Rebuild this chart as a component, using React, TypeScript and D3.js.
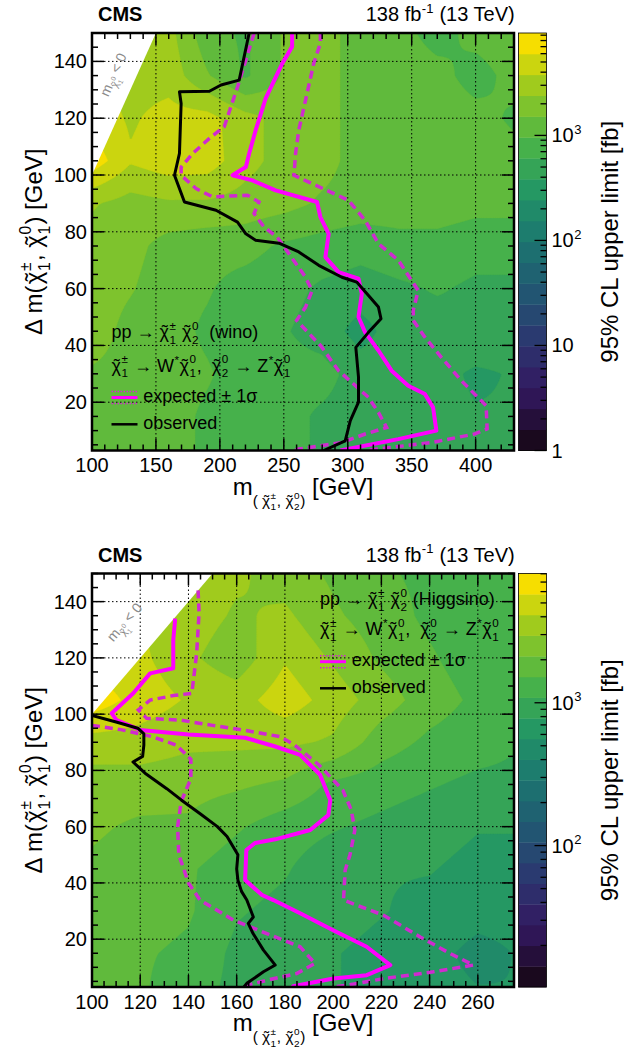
import React, { useMemo } from 'react';
import * as d3 from 'd3';

const W = 639;
const H = 1055;
const FONT = '"Liberation Sans", Arial, Helvetica, sans-serif';

// ---------------- data: wino panel ----------------
const WINO_M = [100, 130, 160, 190, 220, 250, 280, 310, 340, 370, 400, 430];
const WINO_D = [150, 135, 120, 105, 90, 75, 60, 45, 30, 15, 3];
const WINO_LOGZ = [
  [3.5, 3.5, 3.45, 3.05, 2.95, 3.2, 3.25, 3.1, 3.05, 2.9, 3.05, 3.1],
  [3.6, 3.5, 3.5, 3.2, 2.95, 3.2, 3.25, 3.1, 3.1, 3.05, 2.9, 3.05],
  [3.7, 3.55, 3.65, 3.65, 3.45, 3.3, 3.25, 3.1, 3.1, 3.1, 3.05, 2.95],
  [3.9, 3.6, 3.7, 3.68, 3.45, 3.3, 3.25, 3.1, 3.1, 3.1, 3.1, 3.05],
  [3.4, 3.3, 3.35, 3.35, 3.3, 3.25, 3.15, 3.1, 3.1, 3.1, 3.05, 3.05],
  [3.3, 3.25, 3.1, 3.05, 3.05, 2.95, 2.9, 2.85, 2.9, 2.9, 2.85, 2.85],
  [3.3, 3.2, 3.05, 3.0, 2.9, 2.85, 2.75, 2.7, 2.75, 2.8, 2.75, 2.75],
  [3.3, 3.1, 3.05, 2.95, 2.85, 2.8, 2.7, 2.5, 2.7, 2.7, 2.75, 2.7],
  [3.15, 3.1, 3.05, 3.0, 2.9, 2.85, 2.85, 2.7, 2.7, 2.65, 2.55, 2.6],
  [3.1, 3.1, 3.05, 2.95, 2.9, 2.85, 2.75, 2.7, 2.7, 2.65, 2.6, 2.6],
  [3.05, 3.1, 3.05, 2.95, 2.9, 2.85, 2.75, 2.7, 2.7, 2.65, 2.6, 2.6],
];
const WINO_OBS = [
  [222.9, 150], [215.1, 133.4], [200.9, 131.7], [191.8, 129.5], [168.4, 129.3], [169.7, 125.2],
  [168.4, 107.6], [164.5, 99.9], [172.3, 90.5], [197, 87.6], [213.8, 83.4], [220.3, 79.3],
  [228, 77], [246.2, 76], [261.7, 72.9], [277.3, 68.2], [295.4, 64], [307, 62.3], [316.2, 57.6],
  [324, 53.5], [326, 49.4], [316.2, 44.6], [306.3, 39.3], [308.4, 28.8], [308.4, 20], [302, 13.5],
  [298, 6.4], [281.2, 3],
];
const WINO_EXP = [
  [256.5, 150], [256.5, 145.2], [248.8, 139.3], [235.8, 127], [228, 115.8], [222.9, 107.6],
  [220.3, 102.8], [209.9, 99.9], [225.4, 98.1], [243.6, 94.6], [276, 90.5], [278.6, 85.2],
  [285.1, 79.3], [282.5, 71.1], [292.8, 65.8], [308.4, 63.5], [311, 58.2], [308.4, 50],
  [313.6, 44.6], [324, 38.2], [334.3, 31.1], [347.3, 25.8], [360.3, 22.9], [366.7, 18.2],
  [369.3, 10], [339.5, 7], [294.2, 3],
];
const WINO_EXP_UP = [
  [278.6, 150], [278.6, 146.4], [273.4, 139.3], [267, 126.4], [261.7, 115.8], [259.2, 107.6],
  [257.9, 99.9], [269.5, 97.5], [300.6, 91.1], [313.6, 84], [324, 75.8], [339.5, 70],
  [349.9, 62.9], [355.1, 59.3], [351.2, 52.3], [351.2, 48.8], [360.3, 42.9], [373.2, 35.8],
  [388.8, 27.6], [401.7, 21.7], [408.2, 18.8], [409, 10.6], [399.1, 8.8], [365.4, 5.8], [313.6, 3],
];
const WINO_EXP_DOWN = [
  [226.8, 150], [213.8, 131], [208.6, 124], [203.4, 117], [191.8, 112.9], [178.8, 107.6],
  [169.7, 102.8], [169.7, 99.9], [181.4, 95.2], [194.3, 92.3], [221.5, 92.9], [230.6, 90.5],
  [226.7, 86.4], [234.5, 81.7], [244.9, 78.1], [254, 72.3], [267, 64], [272.1, 59.3],
  [267, 53.5], [260, 48.8], [279, 39.8], [292.8, 31.1], [316.2, 21.7], [324, 16.4],
  [330.4, 11.1], [313.6, 8.8], [295.4, 5.8], [261.7, 3.5], [258, 3],
];
const WINO_XTICKS = [100, 150, 200, 250, 300, 350, 400];

// ---------------- data: higgsino panel ----------------
const HIGG_M = [100, 120, 140, 160, 180, 200, 220, 240, 260, 275];
const HIGG_D = [150, 135, 120, 105, 90, 75, 60, 45, 30, 15, 3];
const HIGG_LOGZ = [
  [3.6, 3.6, 3.55, 3.5, 3.4, 3.3, 3.2, 3.15, 3.1, 3.05],
  [3.6, 3.6, 3.55, 3.45, 3.5, 3.35, 3.25, 3.15, 3.1, 3.05],
  [3.7, 3.65, 3.5, 3.38, 3.6, 3.45, 3.3, 3.2, 3.1, 3.05],
  [3.85, 3.7, 3.6, 3.55, 3.7, 3.55, 3.4, 3.25, 3.15, 3.1],
  [3.55, 3.55, 3.5, 3.5, 3.5, 3.45, 3.25, 3.15, 3.1, 3.05],
  [3.4, 3.4, 3.38, 3.35, 3.3, 3.15, 3.1, 3.05, 3.0, 3.0],
  [3.35, 3.3, 3.3, 3.2, 3.1, 3.05, 3.0, 2.95, 2.9, 2.9],
  [3.3, 3.25, 3.2, 3.1, 3.05, 2.95, 2.9, 2.9, 2.85, 2.85],
  [3.25, 3.25, 3.2, 3.05, 3.0, 2.95, 2.9, 2.85, 2.8, 2.8],
  [3.2, 3.2, 3.15, 3.0, 2.95, 2.9, 2.85, 2.8, 2.7, 2.75],
  [3.2, 3.2, 3.1, 3.0, 2.95, 2.9, 2.85, 2.8, 2.75, 2.75],
];
const HIGG_OBS = [
  [100, 99.5], [110, 97.2], [119, 95], [121.5, 93], [121.5, 89], [121, 85], [117, 83], [122, 79],
  [131, 73.5], [137, 69.5], [145, 64.5], [152, 60], [156, 56.5], [160.5, 50], [160, 45], [160.5, 41],
  [162, 37], [164.2, 33.9], [166.9, 27.9], [164.8, 25.6], [166.8, 22], [171.1, 16.1], [176, 10.8],
  [171.1, 8.4], [164.2, 4.3], [163, 3],
];
const HIGG_EXP = [
  [134.4, 134], [134.4, 132.9], [133.7, 126.4], [133.7, 116.3], [124.1, 114.5], [117.1, 107.4],
  [108.2, 100.3], [110.2, 97.9], [119.9, 94.4], [140, 92.8], [163.5, 91.6], [176, 88.5],
  [186.3, 85.5], [194.6, 78.4], [198.8, 69.5], [198, 64.1], [190.5, 58.8], [176, 55.5],
  [167.6, 54.2], [164, 51.7], [163.5, 41], [170.5, 35.7], [175.2, 33.9], [186.3, 29.2],
  [200, 23.2], [213.9, 17.3], [223.7, 10.8], [213.9, 7.2], [200.1, 6], [183.5, 3.3], [183, 3],
];
const HIGG_EXP_UP = [
  [144, 144], [144.4, 136], [143.4, 121.6], [141.4, 107.4], [133.7, 106.6], [124.1, 105],
  [119.2, 101.5], [122.7, 98.5], [136.5, 97.9], [150, 96], [165, 94], [178, 92], [184, 89],
  [194, 82], [204, 73], [207.5, 66], [209, 58.8], [207, 50], [205, 44.6], [204.3, 33.9],
  [220.9, 28.5], [236.1, 20.8], [248.5, 14.9], [258.2, 10.8], [241.6, 8.4], [220.9, 6],
  [205.7, 3.6], [200, 3],
];
const HIGG_EXP_DOWN = [
  [100, 96], [112, 94.5], [125, 92], [135, 89], [141, 84], [141, 77], [137, 69], [135.5, 60],
  [136, 50], [140, 40], [144.8, 33.9], [158.6, 26.8], [172.5, 22], [186.3, 17.3],
  [192.5, 11.4], [184.9, 7.8], [172.5, 5.4], [164.2, 3.6], [162, 3],
];
const HIGG_XTICKS = [100, 120, 140, 160, 180, 200, 220, 240, 260];

const Y_TICKS = [20, 40, 60, 80, 100, 120, 140];
const WINO_ZLABELS = [1, 10, 100, 1000];
const HIGG_ZLABELS = [100, 1000];

// ---------------- palette (ROOT kViridis) ----------------
const VR = [26, 51, 43, 33, 28, 35, 74, 144, 246];
const VG = [9, 24, 55, 87, 118, 150, 180, 200, 222];
const VB = [30, 96, 112, 114, 112, 101, 72, 35, 0];
function viridis(t: number) {
  const p = Math.max(0, Math.min(1, t)) * 8;
  const i = Math.min(7, Math.floor(p));
  const f = p - i;
  const c = (a: number[]) => Math.round(a[i] + (a[i + 1] - a[i]) * f);
  return `rgb(${c(VR)},${c(VG)},${c(VB)})`;
}
const NBANDS = 20;

// ---------------- text helpers ----------------
let _ctx: CanvasRenderingContext2D | null = null;
function textWidth(s: string, size: number, weight = 'normal') {
  if (!_ctx && typeof document !== 'undefined') {
    _ctx = document.createElement('canvas').getContext('2d');
  }
  if (!_ctx) return s.length * size * 0.55;
  _ctx.font = `${weight} ${size}px ${FONT}`;
  return _ctx.measureText(s).width;
}

type Piece = { t?: string; chi?: [string, string]; sup?: string; s?: number; b?: number };
type Glyph = { x: number; y: number; text: string; size: number };

function layout(pieces: Piece[], fs: number, weight = 'normal') {
  const out: Glyph[] = [];
  let x = 0;
  for (const p of pieces) {
    const size = fs * (p.s ?? 1);
    const b = p.b ?? 0;
    if (p.t !== undefined) {
      out.push({ x, y: b, text: p.t, size });
      x += textWidth(p.t, size, weight);
    } else if (p.sup !== undefined) {
      const ss = size * 0.65;
      out.push({ x: x + 0.5, y: b - size * 0.42, text: p.sup, size: ss });
      x += textWidth(p.sup, ss, weight) + 1;
    } else if (p.chi) {
      const wc = textWidth('χ', size);
      const wt = textWidth('˜', size);
      out.push({ x, y: b, text: 'χ', size });
      out.push({ x: x + wc / 2 - wt / 2 + size * 0.03, y: b + size * 0.02, text: '˜', size });
      const ss = size * 0.65;
      const sx = x + wc + size * 0.03;
      out.push({ x: sx, y: b - size * 0.45, text: p.chi[0], size: ss });
      out.push({ x: sx, y: b + size * 0.32, text: p.chi[1], size: ss });
      x = sx + Math.max(textWidth(p.chi[0], ss), textWidth(p.chi[1], ss)) + size * 0.05;
    }
  }
  return { glyphs: out, width: x };
}

const PRE = { whiteSpace: 'pre' as const };

function Rich({ pieces, fs, x, y, anchor = 'start', rotate = 0, fill = '#000', weight = 'normal' }: {
  pieces: Piece[]; fs: number; x: number; y: number; anchor?: string; rotate?: number; fill?: string; weight?: string;
}) {
  const { glyphs, width } = layout(pieces, fs, weight);
  const off = anchor === 'middle' ? -width / 2 : anchor === 'end' ? -width : 0;
  return (
    <g transform={`translate(${x},${y}) rotate(${rotate})`}>
      <text fontFamily={FONT} fill={fill} fontWeight={weight} style={PRE}>
        {glyphs.map((g, i) => (
          <tspan key={i} x={g.x + off} y={g.y} fontSize={g.size}>{g.text}</tspan>
        ))}
      </text>
    </g>
  );
}

// ---------------- field ----------------
function clampIndex(arr: number[], v: number) {
  const i = d3.bisectRight(arr, v) - 1;
  return Math.max(0, Math.min(arr.length - 2, i));
}
function makeField(gm: number[], gd: number[], z: number[][]) {
  const dAsc = gd.slice().reverse();
  const zAsc = z.slice().reverse();
  return (m: number, d: number) => {
    const i = clampIndex(gm, m);
    const j = clampIndex(dAsc, d);
    const fx = Math.max(0, Math.min(1, (m - gm[i]) / (gm[i + 1] - gm[i])));
    const fy = Math.max(0, Math.min(1, (d - dAsc[j]) / (dAsc[j + 1] - dAsc[j])));
    const z00 = zAsc[j][i], z10 = zAsc[j][i + 1], z01 = zAsc[j + 1][i], z11 = zAsc[j + 1][i + 1];
    return z00 * (1 - fx) * (1 - fy) + z10 * fx * (1 - fy) + z01 * (1 - fx) * fy + z11 * fx * fy;
  };
}

type Cfg = {
  id: string; xmin: number; xmax: number; ymin: number; ymax: number;
  left: number; right: number; top: number; bottom: number;
  xMinor: number; yMinor: number; zmin: number; zmax: number;
  gm: number[]; gd: number[]; logz: number[][];
  obs: number[][]; exp: number[][]; up: number[][]; down: number[][];
  xTicks: number[]; zLabels: number[];
  procLabel: string; legX: number; legBase: number[]; legExpY: number; legObsY: number; legTextX: number;
  diag: [number, number];
};

const CHI_TITLE: Piece[] = [{ t: 'Δ m(' }, { chi: ['±', '1'] }, { t: ', ' }, { chi: ['0', '1'] }, { t: ') [GeV]' }];
const X_TITLE: Piece[] = [
  { t: 'm' }, { t: '( ', s: 0.64, b: 11 }, { chi: ['±', '1'], s: 0.64, b: 11 }, { t: ', ', s: 0.64, b: 11 },
  { chi: ['0', '2'], s: 0.64, b: 11 }, { t: ')', s: 0.64, b: 11 }, { t: ' [GeV]' },
];
const DECAY: Piece[] = [
  { chi: ['±', '1'] }, { t: ' → W' }, { sup: '*' }, { chi: ['0', '1'] }, { t: ',  ' },
  { chi: ['0', '2'] }, { t: ' → Z' }, { sup: '*' }, { chi: ['0', '1'] },
];

const DASH_COLOR = '#d02ad0';

function Panel({ cfg }: { cfg: Cfg }) {
  const { xmin, xmax, ymin, ymax, left, right, top, bottom } = cfg;
  const x = d3.scaleLinear().domain([xmin, xmax]).range([left, right]);
  const y = d3.scaleLinear().domain([ymin, ymax]).range([bottom, top]);
  const z = d3.scaleLinear().domain([cfg.zmin, cfg.zmax]).range([bottom, top]);
  const bw = (cfg.zmax - cfg.zmin) / NBANDS;

  const bands = useMemo(() => {
    const nx = 240, ny = 240;
    const f = makeField(cfg.gm, cfg.gd, cfg.logz);
    const vals: number[] = new Array(nx * ny);
    for (let j = 0; j < ny; j++) {
      const d = ymax - ((j + 0.5) / ny) * (ymax - ymin);
      for (let i = 0; i < nx; i++) {
        const m = xmin + ((i + 0.5) / nx) * (xmax - xmin);
        vals[j * nx + i] = f(m, d);
      }
    }
    const thresholds = d3.range(NBANDS).map((k) => cfg.zmin + k * bw);
    const cs = d3.contours().size([nx, ny]).thresholds(thresholds)(vals);
    const proj = d3.geoTransform({
      point(px: number, py: number) {
        (this as any).stream.point(x(xmin + (px / nx) * (xmax - xmin)), y(ymax - (py / ny) * (ymax - ymin)));
      },
    });
    const path = d3.geoPath(proj);
    return cs.map((c, k) => ({ d: path(c as any) || '', color: viridis(k / (NBANDS - 1)) }));
  }, [cfg]);

  const line = d3.line<number[]>().x((p) => x(p[0])).y((p) => y(p[1]));
  const clipId = `clip-${cfg.id}`;
  const maskPts = [[xmin, xmin], [ymax, ymax], [xmin, ymax]].map((p) => `${x(p[0])},${y(p[1])}`).join(' ');

  const xMinors = d3.range(xmin, xmax + 1e-6, cfg.xMinor);
  const yMinors = d3.range(5, ymax + 1e-6, cfg.yMinor);
  const dash = '1.5 2.5';
  const angle = (Math.atan2(y(100) - y(150), x(150) - x(100)) * 180) / Math.PI;

  const cbL = right + 4.5, cbR = right + 32.5;
  const zt: { v: number; major: boolean }[] = [];
  for (let e = Math.floor(cfg.zmin); e <= Math.ceil(cfg.zmax); e++) {
    for (let mlt = 1; mlt <= 9; mlt++) {
      const v = Math.log10(mlt * Math.pow(10, e));
      if (v >= cfg.zmin - 1e-9 && v <= cfg.zmax + 1e-9) zt.push({ v, major: mlt === 1 });
    }
  }

  const expSample = (yy: number) => (
    <g>
      <line x1={cfg.legX} x2={cfg.legX + 26} y1={yy - 6} y2={yy - 6} stroke={DASH_COLOR} strokeWidth={1.5} strokeDasharray="1.5 1.5" />
      <line x1={cfg.legX} x2={cfg.legX + 26} y1={yy + 6} y2={yy + 6} stroke={DASH_COLOR} strokeWidth={1.5} strokeDasharray="1.5 1.5" />
      <line x1={cfg.legX} x2={cfg.legX + 26} y1={yy} y2={yy} stroke="#ff00ff" strokeWidth={3} />
    </g>
  );

  return (
    <g>
      <defs>
        <clipPath id={clipId}>
          <rect x={left} y={top} width={right - left} height={bottom - top} />
        </clipPath>
      </defs>
      <g clipPath={`url(#${clipId})`}>
        {bands.map((b, k) => (
          <path key={k} d={b.d} fill={b.color} stroke={b.color} strokeWidth={0.3} />
        ))}
        <polygon points={maskPts} fill="#fff" />
        {cfg.xTicks.filter((v) => v > xmin && v < xmax).map((v) => (
          <line key={`gx${v}`} x1={x(v)} x2={x(v)} y1={top} y2={bottom} stroke="#000" strokeWidth={1} strokeDasharray={dash} />
        ))}
        {Y_TICKS.map((v) => (
          <line key={`gy${v}`} x1={left} x2={right} y1={y(v)} y2={y(v)} stroke="#000" strokeWidth={1} strokeDasharray={dash} />
        ))}
        <path d={line(cfg.down) || ''} fill="none" stroke={DASH_COLOR} strokeWidth={3.5} strokeDasharray="8 5" />
        <path d={line(cfg.up) || ''} fill="none" stroke={DASH_COLOR} strokeWidth={3.5} strokeDasharray="8 5" />
        <path d={line(cfg.exp) || ''} fill="none" stroke="#ff00ff" strokeWidth={4} strokeLinejoin="round" />
        <path d={line(cfg.obs) || ''} fill="none" stroke="#000" strokeWidth={3} strokeLinejoin="round" />
      </g>

      <Rich
        pieces={[{ t: 'm' }, { chi: ['0', '1'], s: 0.75, b: 4 }, { t: ' < 0' }]}
        fs={14} x={x(cfg.diag[0])} y={y(cfg.diag[1]) + 4} anchor="middle" rotate={-angle} fill="#8a8a8a"
      />

      {xMinors.map((v) => {
        const major = cfg.xTicks.some((t) => Math.abs(t - v) < 1e-6);
        const L = major ? 12 : 6;
        return (
          <g key={`tx${v}`}>
            <line x1={x(v)} x2={x(v)} y1={bottom} y2={bottom - L} stroke="#000" strokeWidth={1.5} />
            <line x1={x(v)} x2={x(v)} y1={top} y2={top + L} stroke="#000" strokeWidth={1.5} />
          </g>
        );
      })}
      {yMinors.map((v) => {
        const major = v % 20 === 0;
        const L = major ? 12 : 6;
        return (
          <g key={`ty${v}`}>
            <line x1={left} x2={left + L} y1={y(v)} y2={y(v)} stroke="#000" strokeWidth={1.5} />
            <line x1={right} x2={right - L} y1={y(v)} y2={y(v)} stroke="#000" strokeWidth={1.5} />
          </g>
        );
      })}
      <rect x={left} y={top} width={right - left} height={bottom - top} fill="none" stroke="#000" strokeWidth={2.5} />

      {cfg.xTicks.map((v) => (
        <text key={`lx${v}`} x={x(v)} y={bottom + 21.5} fontSize={20} fontFamily={FONT} textAnchor="middle">{v}</text>
      ))}
      {Y_TICKS.map((v) => (
        <text key={`ly${v}`} x={left - 5} y={y(v) + 7} fontSize={20} fontFamily={FONT} textAnchor="end">{v}</text>
      ))}

      <Rich pieces={X_TITLE} fs={24} x={(left + right) / 2} y={bottom + 44} anchor="middle" />
      <Rich pieces={CHI_TITLE} fs={24} x={left - 50} y={(top + bottom) / 2} anchor="middle" rotate={-90} />

      <text x={left + 6} y={top - 12} fontSize={20} fontWeight="bold" fontFamily={FONT}>CMS</text>
      <Rich pieces={[{ t: '138 fb' }, { sup: '-1' }, { t: ' (13 TeV)' }]} fs={20} x={right + 1} y={top - 12} anchor="end" />

      <Rich
        pieces={[{ t: 'pp → ' }, { chi: ['±', '1'] }, { t: ' ' }, { chi: ['0', '2'] }, { t: cfg.procLabel }]}
        fs={18} x={cfg.legX} y={cfg.legBase[0]}
      />
      <Rich pieces={DECAY} fs={18} x={cfg.legX} y={cfg.legBase[1]} />
      {expSample(cfg.legExpY)}
      <text x={cfg.legTextX} y={cfg.legExpY + 4.5} fontSize={18} fontFamily={FONT} style={PRE}>expected ± 1σ</text>
      <line x1={cfg.legX} x2={cfg.legX + 26} y1={cfg.legObsY} y2={cfg.legObsY} stroke="#000" strokeWidth={2.5} />
      <text x={cfg.legTextX} y={cfg.legObsY + 4.5} fontSize={18} fontFamily={FONT}>observed</text>

      {d3.range(NBANDS).map((k) => (
        <rect key={`cb${k}`} x={cbL} y={z(cfg.zmin + (k + 1) * bw)} width={cbR - cbL}
          height={z(cfg.zmin + k * bw) - z(cfg.zmin + (k + 1) * bw) + 0.4} fill={viridis(k / (NBANDS - 1))} />
      ))}
      <rect x={cbL} y={top} width={cbR - cbL} height={bottom - top} fill="none" stroke="#000" strokeWidth={0.8} />
      {zt.map((t, i) => (
        <line key={`zt${i}`} x1={cbR} x2={cbR - (t.major ? 12 : 6)} y1={z(t.v)} y2={z(t.v)} stroke="#000" strokeWidth={1.3} />
      ))}
      {cfg.zLabels.map((v) => {
        const e = Math.round(Math.log10(v));
        const pieces: Piece[] = e <= 1 ? [{ t: String(v) }] : [{ t: '10' }, { sup: String(e) }];
        return <Rich key={`zl${v}`} pieces={pieces} fs={20} x={cbR + 5} y={z(Math.log10(v)) + 7} />;
      })}
      <text x={0} y={0} transform={`translate(618,${(top + bottom) / 2}) rotate(-90)`} fontSize={24}
        fontFamily={FONT} textAnchor="middle">95% CL upper limit [fb]</text>
    </g>
  );
}

const WINO_CFG: Cfg = {
  id: 'wino', xmin: 100, xmax: 430, ymin: 3, ymax: 150, left: 92, right: 514, top: 33, bottom: 450.5,
  xMinor: 10, yMinor: 5, zmin: 0, zmax: 3.975,
  gm: WINO_M, gd: WINO_D, logz: WINO_LOGZ,
  obs: WINO_OBS, exp: WINO_EXP, up: WINO_EXP_UP, down: WINO_EXP_DOWN,
  xTicks: WINO_XTICKS, zLabels: WINO_ZLABELS,
  procLabel: '  (wino)', legX: 111.5, legBase: [338, 371.5], legExpY: 397.5, legObsY: 424.3, legTextX: 143.3,
  diag: [120, 136],
};

const HIGG_CFG: Cfg = {
  id: 'higg', xmin: 100, xmax: 275, ymin: 3, ymax: 150, left: 92, right: 514, top: 573.5, bottom: 987,
  xMinor: 5, yMinor: 5, zmin: 1.01, zmax: 3.905,
  gm: HIGG_M, gd: HIGG_D, logz: HIGG_LOGZ,
  obs: HIGG_OBS, exp: HIGG_EXP, up: HIGG_EXP_UP, down: HIGG_EXP_DOWN,
  xTicks: HIGG_XTICKS, zLabels: HIGG_ZLABELS,
  procLabel: ' (Higgsino)', legX: 320, legBase: [605, 635], legExpY: 661.7, legObsY: 688.3, legTextX: 351.7,
  diag: [115, 133],
};

export default function App() {
  return (
    <div style={{ position: 'absolute', left: 0, top: 0, width: W, height: H, background: '#fff' }}>
      <svg width={W} height={H} viewBox={`0 0 ${W} ${H}`} style={{ display: 'block' }}>
        <rect x={0} y={0} width={W} height={H} fill="#fff" />
        <Panel cfg={WINO_CFG} />
        <Panel cfg={HIGG_CFG} />
      </svg>
    </div>
  );
}
